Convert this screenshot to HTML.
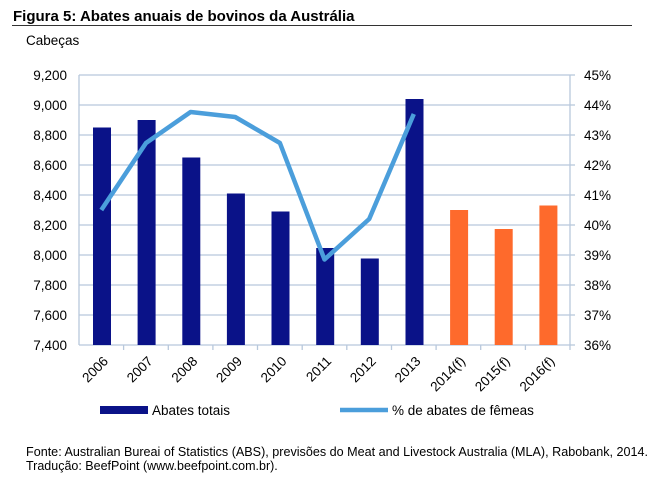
<!DOCTYPE html>
<html><head><meta charset="utf-8"><style>
body{margin:0;background:#fff;width:660px;height:481px;overflow:hidden;font-family:"Liberation Sans",sans-serif}
</style></head><body>
<svg width="660" height="481" xmlns="http://www.w3.org/2000/svg" font-family="Liberation Sans, sans-serif">
<text x="13" y="21" font-size="15" font-weight="bold" fill="#000">Figura 5: Abates anuais de bovinos da Austrália</text>
<line x1="12" y1="25.5" x2="632" y2="25.5" stroke="#333" stroke-width="1"/>
<text x="26" y="45" font-size="13.5" fill="#000">Cabeças</text>
<g stroke="#b8c8dc" stroke-width="1.3">
<line x1="79" y1="75" x2="570" y2="75"/><line x1="79" y1="105" x2="570" y2="105"/><line x1="79" y1="135" x2="570" y2="135"/><line x1="79" y1="165" x2="570" y2="165"/><line x1="79" y1="195" x2="570" y2="195"/><line x1="79" y1="225" x2="570" y2="225"/><line x1="79" y1="255" x2="570" y2="255"/><line x1="79" y1="285" x2="570" y2="285"/><line x1="79" y1="315" x2="570" y2="315"/><line x1="79" y1="345" x2="570" y2="345"/>
<line x1="79" y1="75" x2="79" y2="345"/><line x1="570" y1="75" x2="570" y2="350"/>
<line x1="123.6" y1="345" x2="123.6" y2="350"/><line x1="168.3" y1="345" x2="168.3" y2="350"/><line x1="212.9" y1="345" x2="212.9" y2="350"/><line x1="257.5" y1="345" x2="257.5" y2="350"/><line x1="302.2" y1="345" x2="302.2" y2="350"/><line x1="346.8" y1="345" x2="346.8" y2="350"/><line x1="391.5" y1="345" x2="391.5" y2="350"/><line x1="436.1" y1="345" x2="436.1" y2="350"/><line x1="480.7" y1="345" x2="480.7" y2="350"/><line x1="525.4" y1="345" x2="525.4" y2="350"/>
<line x1="570" y1="75" x2="575" y2="75"/><line x1="570" y1="105" x2="575" y2="105"/><line x1="570" y1="135" x2="575" y2="135"/><line x1="570" y1="165" x2="575" y2="165"/><line x1="570" y1="195" x2="575" y2="195"/><line x1="570" y1="225" x2="575" y2="225"/><line x1="570" y1="255" x2="575" y2="255"/><line x1="570" y1="285" x2="575" y2="285"/><line x1="570" y1="315" x2="575" y2="315"/><line x1="570" y1="345" x2="575" y2="345"/>
</g>
<g font-size="13.5" fill="#000" text-anchor="end">
<text x="67" y="80">9,200</text><text x="67" y="110">9,000</text><text x="67" y="140">8,800</text><text x="67" y="170">8,600</text><text x="67" y="200">8,400</text><text x="67" y="230">8,200</text><text x="67" y="260">8,000</text><text x="67" y="290">7,800</text><text x="67" y="320">7,600</text><text x="67" y="350">7,400</text>
</g>
<g font-size="13.5" fill="#000">
<text x="584" y="80">45%</text><text x="584" y="110">44%</text><text x="584" y="140">43%</text><text x="584" y="170">42%</text><text x="584" y="200">41%</text><text x="584" y="230">40%</text><text x="584" y="260">39%</text><text x="584" y="290">38%</text><text x="584" y="320">37%</text><text x="584" y="350">36%</text>
</g>
<g fill="#0a1288">
<rect x="93" y="127.5" width="18" height="217.5"/>
<rect x="137.6" y="120" width="18" height="225"/>
<rect x="182.3" y="157.5" width="18" height="187.5"/>
<rect x="226.9" y="193.5" width="18" height="151.5"/>
<rect x="271.5" y="211.5" width="18" height="133.5"/>
<rect x="316.2" y="248" width="18" height="97"/>
<rect x="360.8" y="258.5" width="18" height="86.5"/>
<rect x="405.5" y="99" width="18" height="246"/>
</g>
<g fill="#fe6a2c">
<rect x="450.1" y="210" width="18" height="135"/>
<rect x="494.7" y="229" width="18" height="116"/>
<rect x="539.4" y="205.5" width="18" height="139.5"/>
</g>
<polyline fill="none" stroke="#4b9edb" stroke-width="4.5" stroke-linejoin="round" points="101.3,210 146,143 190.6,112 235.2,117 279.9,143 324.5,259.5 369.2,219 413.8,114"/>
<g font-size="13.5" fill="#000" text-anchor="end">
<text transform="translate(109,362) rotate(-45)">2006</text>
<text transform="translate(153.6,362) rotate(-45)">2007</text>
<text transform="translate(198.3,362) rotate(-45)">2008</text>
<text transform="translate(242.9,362) rotate(-45)">2009</text>
<text transform="translate(287.5,362) rotate(-45)">2010</text>
<text transform="translate(332.2,362) rotate(-45)">2011</text>
<text transform="translate(376.8,362) rotate(-45)">2012</text>
<text transform="translate(421.5,362) rotate(-45)">2013</text>
<text transform="translate(466.1,362) rotate(-45)">2014(f)</text>
<text transform="translate(510.7,362) rotate(-45)">2015(f)</text>
<text transform="translate(555.4,362) rotate(-45)">2016(f)</text>
</g>
<rect x="100" y="406" width="48" height="8" fill="#0a1288"/>
<text x="152" y="415" font-size="13.5" fill="#000">Abates totais</text>
<line x1="340" y1="410" x2="388" y2="410" stroke="#4b9edb" stroke-width="4.5"/>
<text x="392" y="415" font-size="13.5" fill="#000">% de abates de fêmeas</text>
<text x="26" y="456" font-size="12.5" fill="#000" textLength="622" lengthAdjust="spacingAndGlyphs">Fonte: Australian Bureai of Statistics (ABS), previsões do Meat and Livestock Australia (MLA), Rabobank, 2014.</text>
<text x="26" y="470" font-size="12.5" fill="#000">Tradução: BeefPoint (www.beefpoint.com.br).</text>
</svg>
</body></html>
